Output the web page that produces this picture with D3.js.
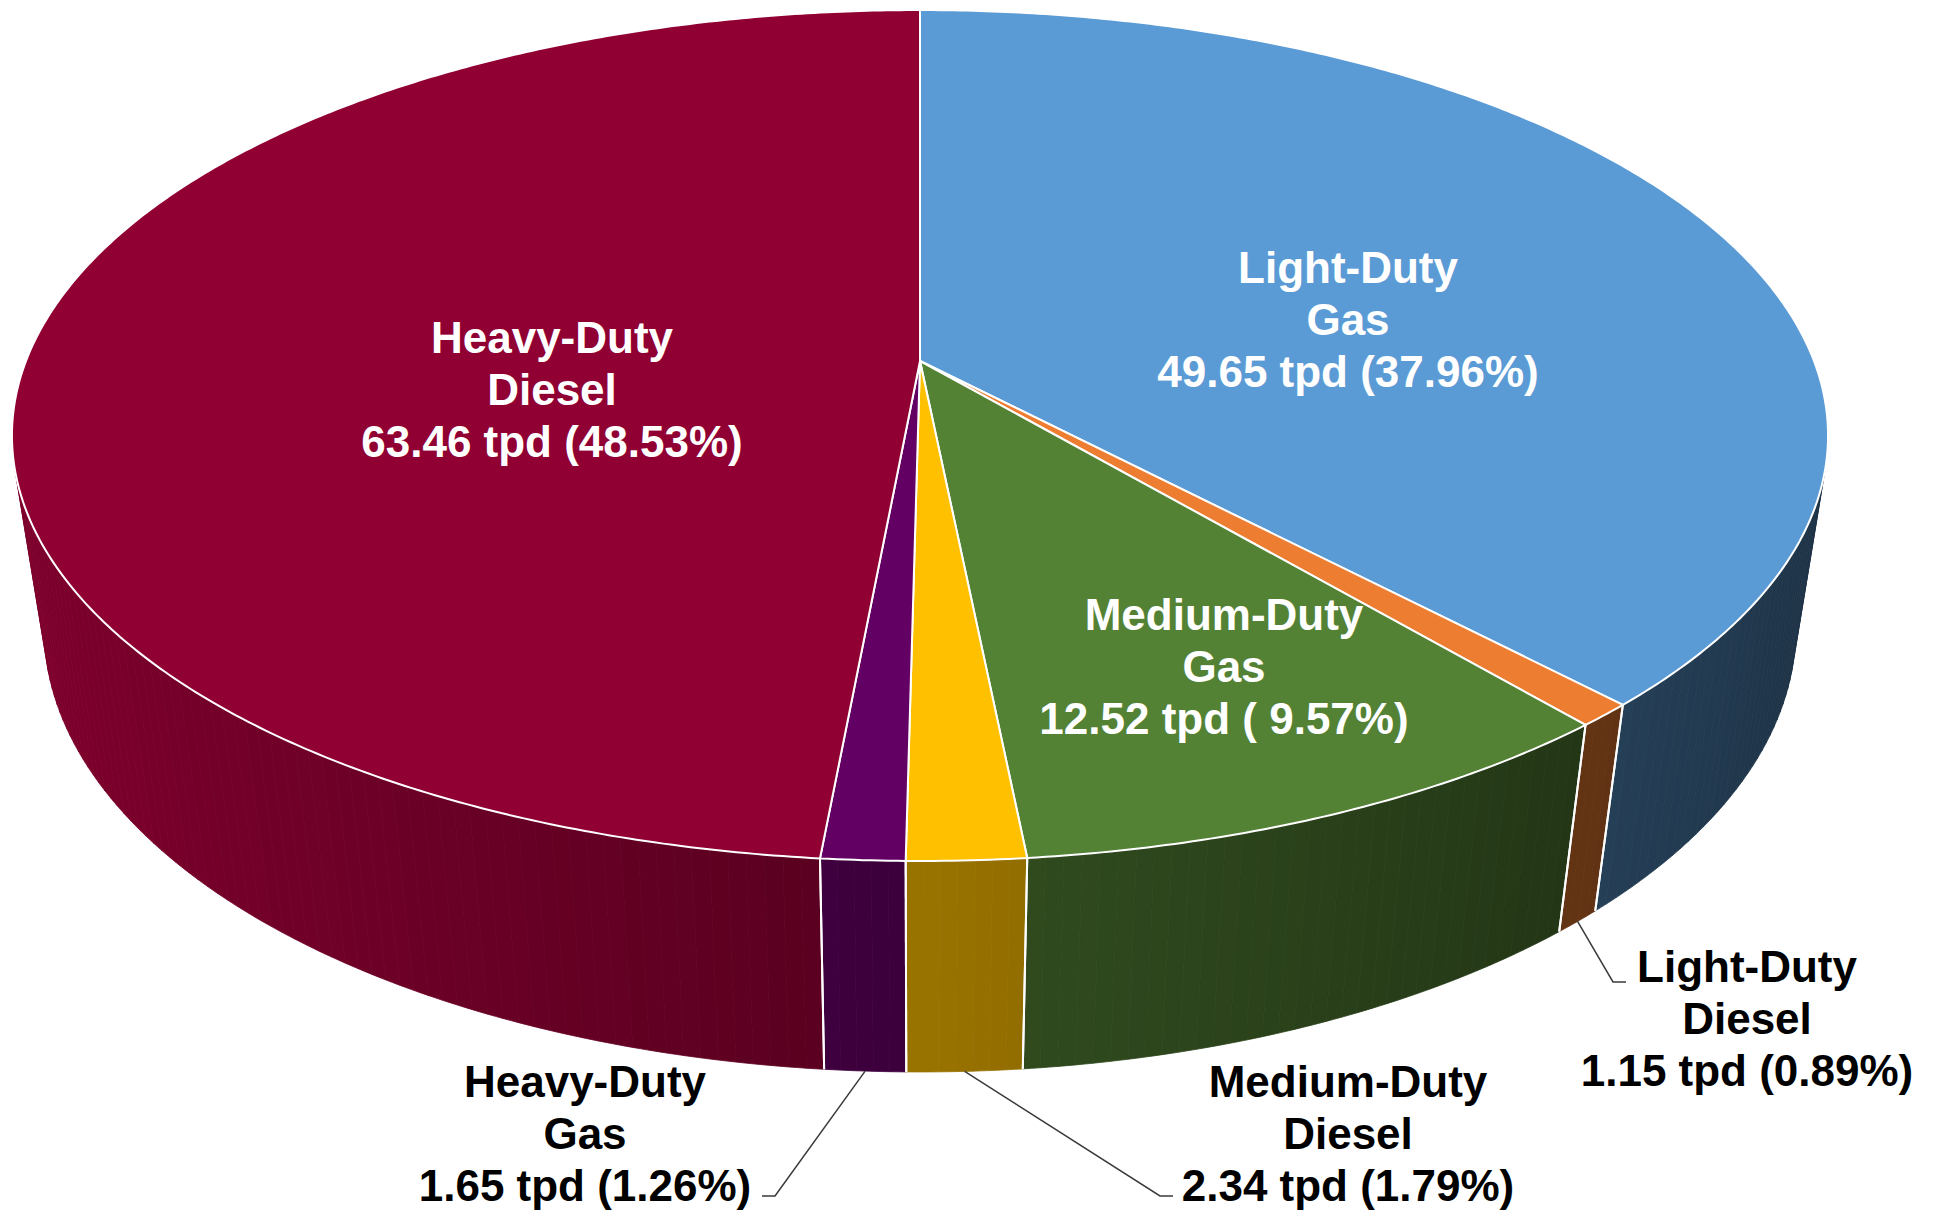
<!DOCTYPE html>
<html lang="en">
<head>
<meta charset="UTF-8">
<script src="https://d3js.org/d3.v7.min.js"></script>
<style>
  body { margin: 0; background: #fff; }
  text { font-family: "Liberation Sans", Arial, sans-serif; font-weight: bold; font-size: 44px; white-space: pre; }
</style>
<title>On-road emissions by vehicle class</title>
</head>
<body>
<svg id="chart" width="1933" height="1212"></svg>
<script>
// slices, clockwise from the back of the pie
const categories = ["Light-Duty Gas", "Light-Duty Diesel", "Medium-Duty Gas", "Medium-Duty Diesel", "Heavy-Duty Gas", "Heavy-Duty Diesel"];
const nameLines = [["Light-Duty", "Gas"], ["Light-Duty", "Diesel"], ["Medium-Duty", "Gas"], ["Medium-Duty", "Diesel"], ["Heavy-Duty", "Gas"], ["Heavy-Duty", "Diesel"]];
const tpd = [49.65, 1.15, 12.52, 2.34, 1.65, 63.46];
const pctLabels = ["37.96%", "0.89%", " 9.57%", "1.79%", "1.26%", "48.53%"];

const palette = ["#5b9bd5", "#ed7d31", "#548235", "#ffc000", "#630063", "#910033"];

// label layout: centre x, first baseline, inside (white) or outside with leader
const labelLayout = {
  "Light-Duty Gas":     { x: 1348, y: 283, inside: true },
  "Light-Duty Diesel":  { x: 1747, y: 982, inside: false, elbow: [1613, 982], end: [1626, 982] },
  "Medium-Duty Gas":    { x: 1224, y: 630, inside: true },
  "Medium-Duty Diesel": { x: 1348, y: 1097, inside: false, elbow: [1160, 1196], end: [1173, 1196] },
  "Heavy-Duty Gas":     { x: 585, y: 1097, inside: false, elbow: [775, 1196], end: [762, 1196] },
  "Heavy-Duty Diesel":  { x: 552, y: 353, inside: true }
};

function draw() {
  const svg = d3.select("#chart");

  // perspective camera for the 3d disc
  const tilt = 33 * Math.PI / 180;
  const cosT = Math.cos(tilt), sinT = Math.sin(tilt);
  const D = 5.711 * cosT;
  const Fx = 4282, Fy = 3627;
  const cx = 920, cy = 361;
  const H = 0.314;

  function project(a, w) {
    const u = Math.sin(a), v = -Math.cos(a);
    const yc = w * cosT - v * sinT;
    const z = D - (v * cosT + w * sinT);
    return [cx + Fx * u / z, cy - Fy * yc / z];
  }

  const color = d3.scaleOrdinal().domain(categories).range(palette);
  const pie = d3.pie().sort(null).value(d => d.value);
  const arcs = pie(categories.map((c, i) => ({ name: c, value: tpd[i] })));

  const line = d3.line();
  const step = Math.PI / 360;
  function arcPts(a0, a1, w) {
    const n = Math.max(2, Math.ceil(Math.abs(a1 - a0) / step));
    return d3.range(n + 1).map(k => project(a0 + (a1 - a0) * k / n, w));
  }

  // visible part of the side wall
  const alpha = Math.acos(1 / (D * cosT));
  const visLo = Math.PI - alpha, visHi = Math.PI + alpha;

  // light comes from the left, so the wall darkens towards the right
  function shade(c, a) {
    const f = 0.6 - 0.28 * Math.sin(a);
    const rgb = d3.rgb(c);
    return d3.rgb(rgb.r * f, rgb.g * f, rgb.b * f).formatHex();
  }

  const sideG = svg.append("g");
  const band = Math.PI / 180;
  arcs.forEach(d => {
    const a0 = Math.max(d.startAngle, visLo), a1 = Math.min(d.endAngle, visHi);
    if (a1 <= a0) return;
    const n = Math.ceil((a1 - a0) / band);
    for (let k = 0; k < n; k++) {
      const b0 = a0 + (a1 - a0) * k / n, b1 = a0 + (a1 - a0) * (k + 1) / n;
      const pts = arcPts(b0, b1, 0).concat(arcPts(b1, b0, -H));
      const fill = shade(color(d.data.name), (b0 + b1) / 2);
      sideG.append("path")
        .attr("d", line(pts) + "Z")
        .attr("fill", fill)
        .attr("stroke", fill)
        .attr("stroke-width", 0.8);
    }
  });

  // white seams between slices on the wall
  arcs.forEach(d => {
    [d.startAngle, d.endAngle].forEach(a => {
      if (a <= visLo || a >= visHi) return;
      sideG.append("path")
        .attr("d", line([project(a, 0), project(a, -H)]))
        .attr("stroke", "#fff")
        .attr("stroke-width", 2)
        .attr("fill", "none");
    });
  });

  // top faces
  svg.append("g").selectAll("path")
    .data(arcs)
    .join("path")
    .attr("d", d => line([[cx, cy]].concat(arcPts(d.startAngle, d.endAngle, 0))) + "Z")
    .attr("fill", d => color(d.data.name))
    .attr("stroke", "#fff")
    .attr("stroke-width", 2)
    .attr("stroke-linejoin", "round");

  // leader lines
  const leaderG = svg.append("g");
  arcs.forEach(d => {
    const lay = labelLayout[d.data.name];
    if (lay.inside) return;
    const mid = (d.startAngle + d.endAngle) / 2;
    leaderG.append("path")
      .attr("d", line([project(mid, -H), lay.elbow, lay.end]))
      .attr("fill", "none")
      .attr("stroke", "#3a3a3a")
      .attr("stroke-width", 1.5);
  });

  // labels
  const lh = 52;
  arcs.forEach((d, i) => {
    const lay = labelLayout[d.data.name];
    const lines = nameLines[i].concat([tpd[i].toFixed(2) + " tpd (" + pctLabels[i] + ")"]);
    const t = svg.append("text")
      .attr("text-anchor", "middle")
      .attr("fill", lay.inside ? "#fff" : "#000");
    lines.forEach((s, j) => {
      t.append("tspan").attr("x", lay.x).attr("y", lay.y + j * lh).text(s);
    });
  });
}

draw();
</script>
</body>
</html>
